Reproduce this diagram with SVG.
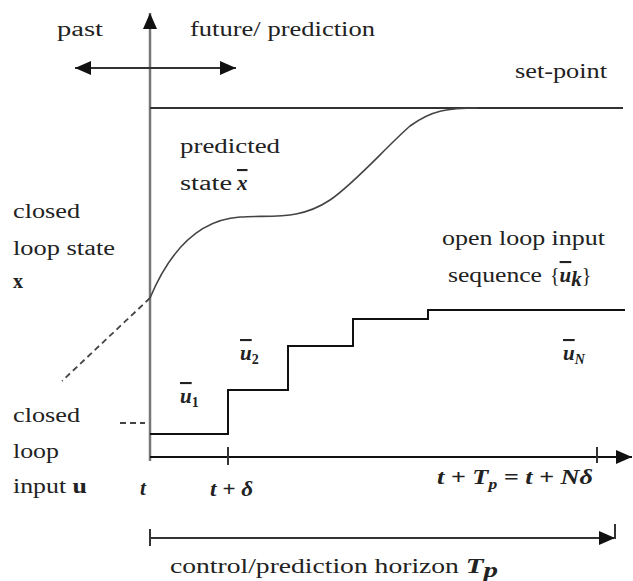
<svg xmlns="http://www.w3.org/2000/svg" width="633" height="581" viewBox="0 0 633 581">
  <style>
    .t { font-family: "Liberation Serif", "Times New Roman", serif; font-size: 20px; fill: #222; }
    .m { font-family: "Liberation Serif", "Times New Roman", serif; font-size: 21px; fill: #222; font-style: italic; font-weight: bold; }
    .ov { text-decoration: overline; }
    .ax { stroke: #777; stroke-width: 2.5; fill: none; }
    .ln { stroke: #333; stroke-width: 2; fill: none; }
    .st { stroke: #111; stroke-width: 2; fill: none; }
    .cv { stroke: #444; stroke-width: 1.6; fill: none; }
    .ds { stroke: #444; stroke-width: 1.8; fill: none; stroke-dasharray: 6 4; }
  </style>
  <defs>
    <marker id="ah" markerUnits="userSpaceOnUse" markerWidth="16" markerHeight="14" refX="16" refY="7" orient="auto-start-reverse">
      <path d="M0,0 L16,7 L0,14 z" fill="#111"/>
    </marker>
  </defs>
  <rect width="633" height="581" fill="#fff"/>

  <g id="connectors">
    <line class="ax" x1="150" y1="461" x2="150" y2="13" marker-end="url(#ah)"/>
    <line class="ln" x1="75" y1="68" x2="236" y2="68" marker-start="url(#ah)" marker-end="url(#ah)"/>
    <line class="ln" x1="150" y1="108" x2="623" y2="108"/>
    <path class="cv" d="M150,298 C168,255 195,220 240,217 C275,215 300,220 330,200 C355,183 385,148 410,126 C432,110 448,108 478,108"/>
    <line class="ds" x1="150" y1="298" x2="62" y2="381"/>
    <path class="ds" d="M120,423 H145"/>
    <path class="st" d="M150,434 H228 V390 H288 V346 H353 V319 H428 V310 H625"/>
    <line class="st" x1="150" y1="457" x2="632" y2="457" marker-end="url(#ah)"/>
    <line class="ln" x1="228" y1="447" x2="228" y2="465"/>
    <line class="ln" x1="597" y1="447" x2="597" y2="463"/>
    <line class="ln" x1="150" y1="538" x2="615" y2="538" marker-end="url(#ah)"/>
    <line class="ln" x1="150" y1="529" x2="150" y2="546"/>
    <line class="ln" x1="615" y1="524" x2="615" y2="539"/>
  </g>

  <g id="past"><text class="t" x="57" y="36" textLength="46" lengthAdjust="spacingAndGlyphs">past</text></g>
  <g id="future"><text class="t" x="190" y="36" textLength="185" lengthAdjust="spacingAndGlyphs">future/ prediction</text></g>
  <g id="setpoint"><text class="t" x="515" y="78" textLength="92" lengthAdjust="spacingAndGlyphs">set-point</text></g>
  <g id="predicted">
    <text class="t" x="180" y="153" textLength="100" lengthAdjust="spacingAndGlyphs">predicted</text>
    <text class="t" x="180" y="190" textLength="52" lengthAdjust="spacingAndGlyphs">state</text>
    <text class="m ov" x="237" y="190">x</text>
  </g>
  <g id="closed-state">
    <text class="t" x="13" y="218" textLength="67" lengthAdjust="spacingAndGlyphs">closed</text>
    <text class="t" x="13" y="255" textLength="102" lengthAdjust="spacingAndGlyphs">loop state</text>
    <text class="t" x="13" y="288" font-weight="bold">x</text>
  </g>
  <g id="openloop">
    <text class="t" x="442" y="245" textLength="163" lengthAdjust="spacingAndGlyphs">open loop input</text>
    <text class="t" x="448" y="282" textLength="94" lengthAdjust="spacingAndGlyphs">sequence</text>
    <text class="t" x="550" y="282">{<tspan class="m ov">u</tspan><tspan class="m" font-size="14" dy="4">k</tspan><tspan dy="-4">}</tspan></text>
  </g>
  <g id="u1"><text class="m" x="180" y="403"><tspan class="ov">u</tspan><tspan font-size="14" dy="4" font-style="normal">1</tspan></text></g>
  <g id="u2"><text class="m" x="240" y="360"><tspan class="ov">u</tspan><tspan font-size="14" dy="4" font-style="normal">2</tspan></text></g>
  <g id="uN"><text class="m" x="563" y="360"><tspan class="ov">u</tspan><tspan font-size="14" dy="4">N</tspan></text></g>
  <g id="closed-input">
    <text class="t" x="13" y="422" textLength="67" lengthAdjust="spacingAndGlyphs">closed</text>
    <text class="t" x="13" y="458" textLength="46" lengthAdjust="spacingAndGlyphs">loop</text>
    <text class="t" x="13" y="493" textLength="74" lengthAdjust="spacingAndGlyphs">input <tspan font-weight="bold">u</tspan></text>
  </g>
  <g id="t0"><text class="m" x="140" y="495">t</text></g>
  <g id="t1"><text class="m" x="210" y="496" textLength="43" lengthAdjust="spacingAndGlyphs">t + δ</text></g>
  <g id="tN"><text class="m" x="437" y="484" textLength="156" lengthAdjust="spacingAndGlyphs">t + T<tspan font-size="14" dy="5">p</tspan><tspan dy="-5"> = t + Nδ</tspan></text></g>
  <g id="horizon"><text class="t" x="170" y="573" textLength="328" lengthAdjust="spacingAndGlyphs">control/prediction horizon <tspan class="m">T</tspan><tspan class="m" font-size="14" dy="4">p</tspan></text></g>
</svg>
